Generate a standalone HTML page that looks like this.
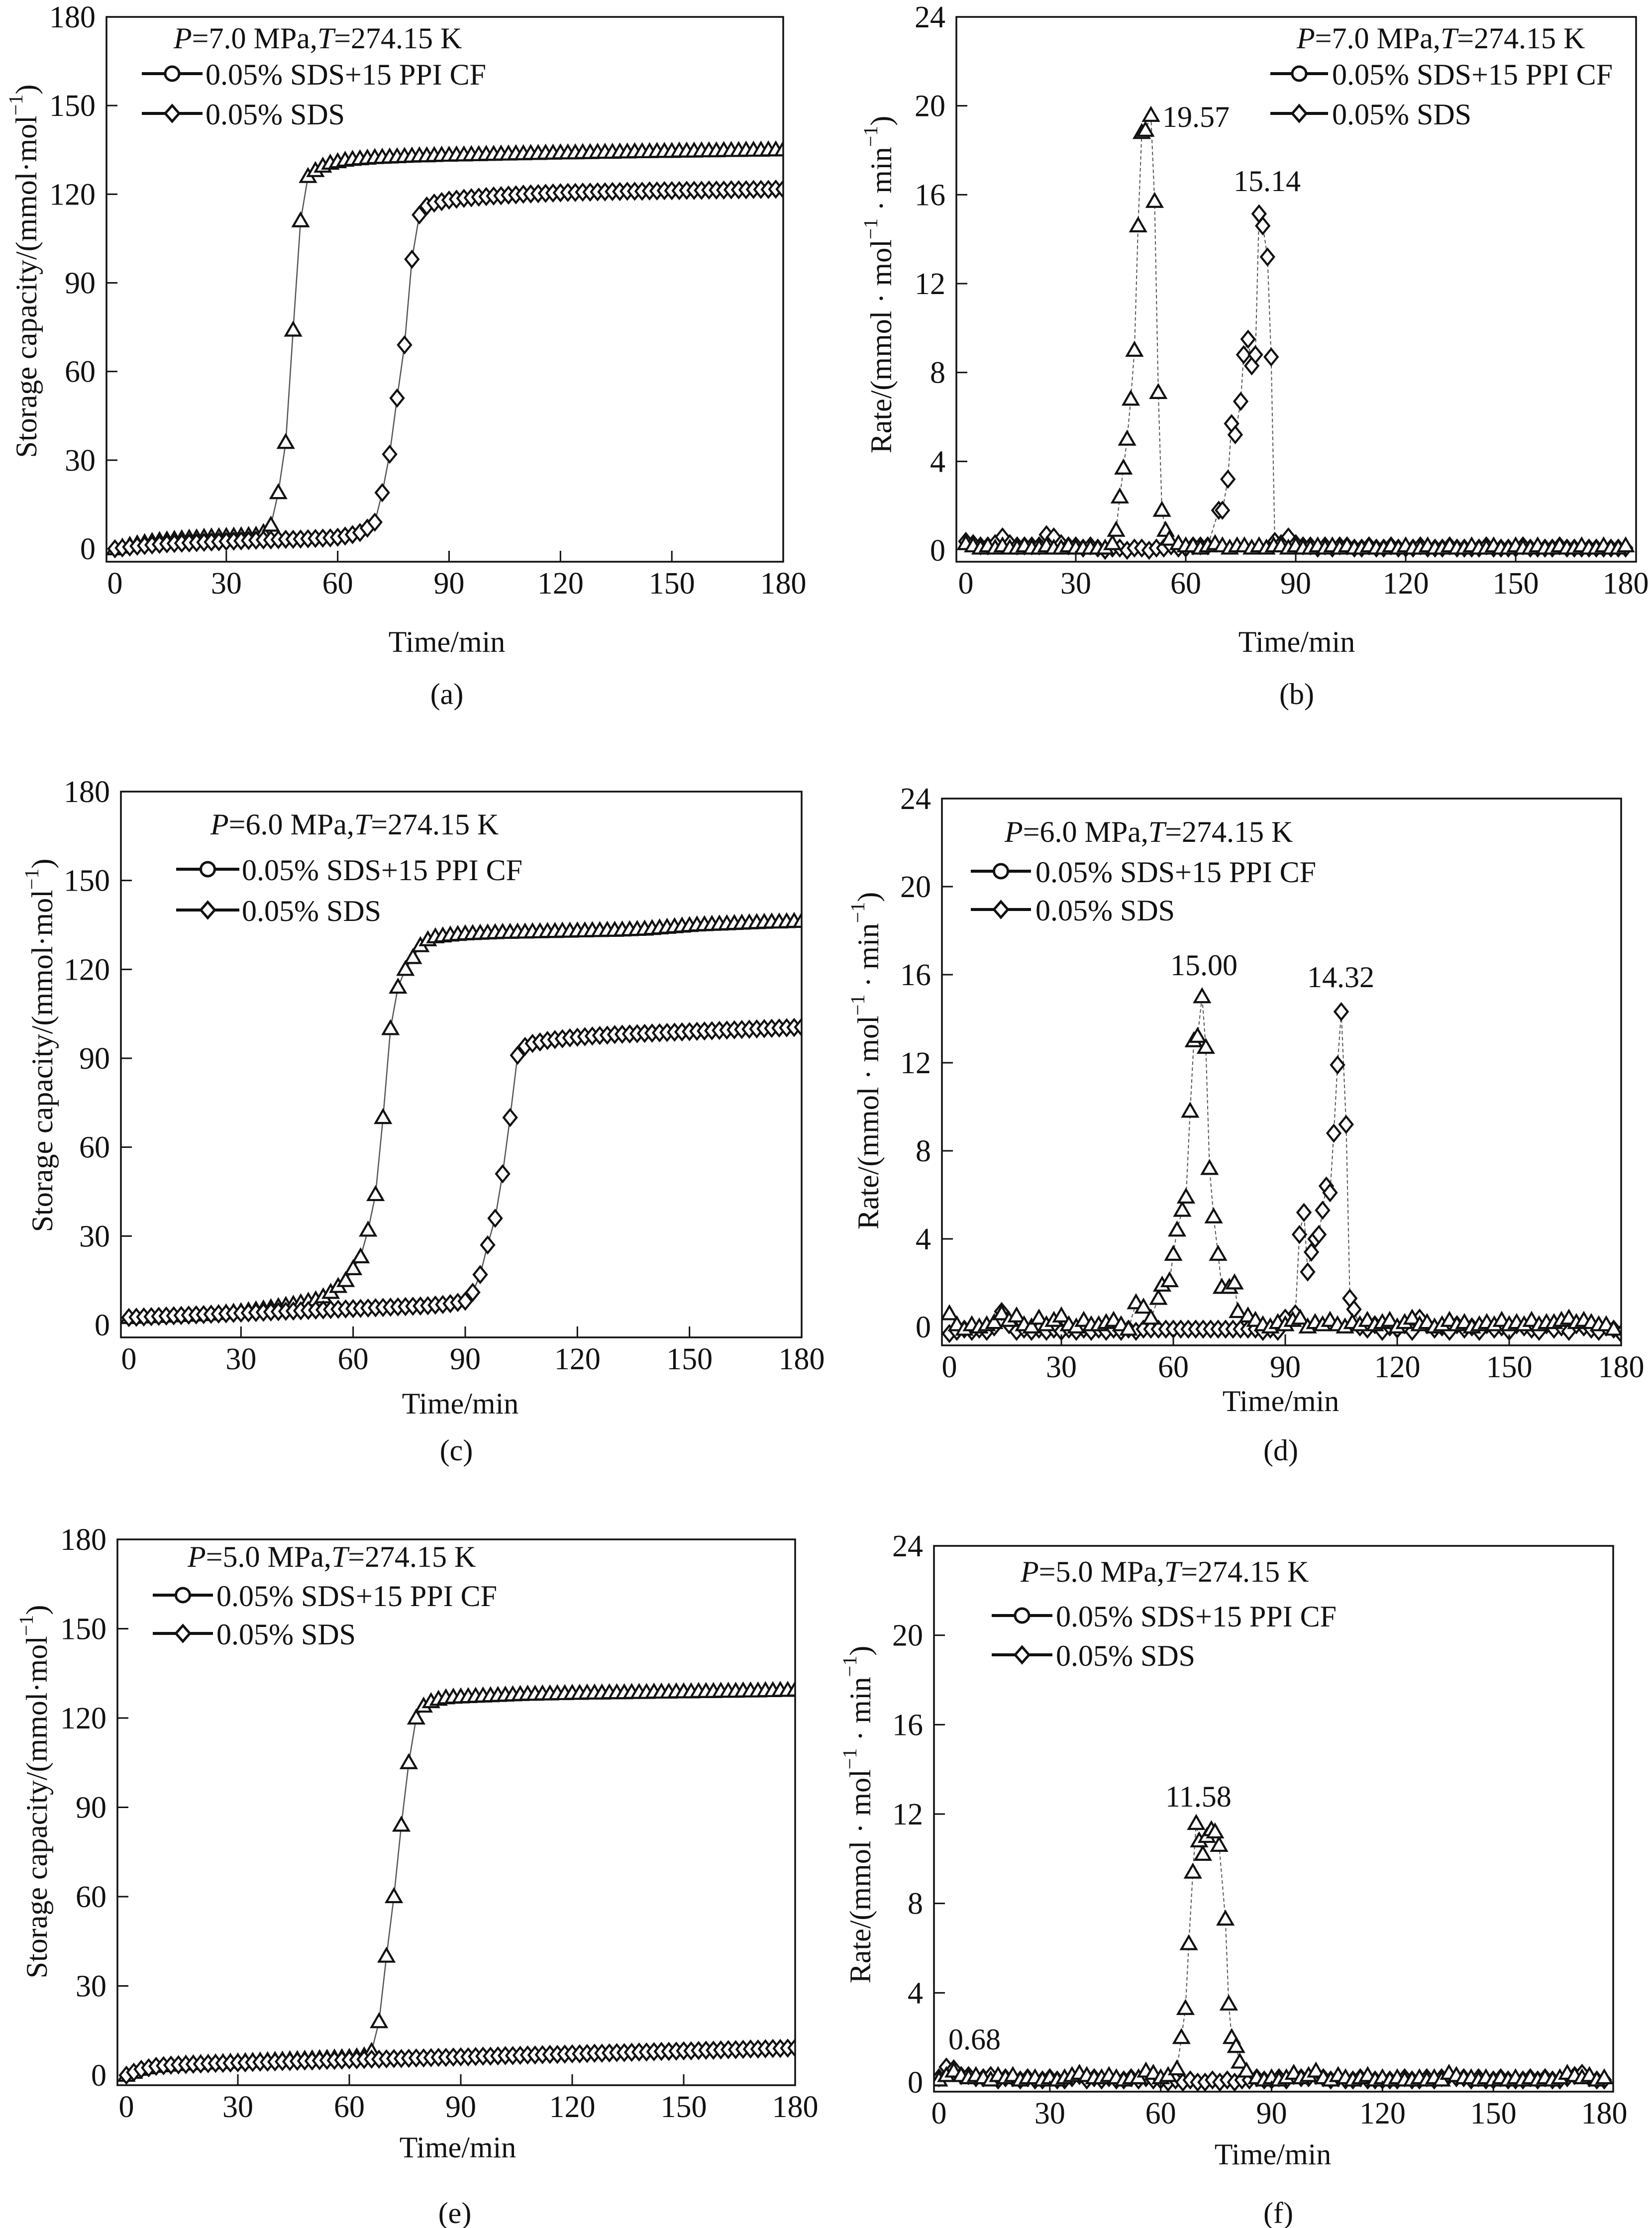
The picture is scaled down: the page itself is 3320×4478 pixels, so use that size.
<!DOCTYPE html>
<html><head><meta charset="utf-8"><style>
html,body{margin:0;padding:0;background:#fff;}
svg{display:block;font-family:"Liberation Serif",serif;}
</style></head><body>
<svg id="fig" width="3320" height="4478" viewBox="0 0 3320 4478" xmlns="http://www.w3.org/2000/svg"></svg>
<script>
// ---------- DATA ----------
const storageTime = [0,2,4,6,8,10,12,14,16,18,20,22,24,26,28,30,32,34,36,38,40,42,44,46,48,50,52,54,56,58,60,62,64,66,68,70,72,74,76,78,80,82,84,86,88,90,92,94,96,98,100,102,104,106,108,110,112,114,116,118,120,122,124,126,128,130,132,134,136,138,140,142,144,146,148,150,152,154,156,158,160,162,164,166,168,170,172,174,176,178,180];
const xTickLabels = [0,30,60,90,120,150,180];
const capTickLabels = [0,30,60,90,120,150,180];
const rateTickLabels = [0,4,8,12,16,20,24];
// (a) 7.0 MPa storage
const capA_CF = [0,0.6,1.2,1.7,2.1,2.5,2.8,3.0,3.2,3.4, 3.6,3.7,3.9,4.0,4.1,4.2,4.3,4.4,4.5,4.6, 5.5,8,19,36,74,111,126,128,129.5,130.5, 131,131.5,131.8,132,132.2,132.4,132.5,132.6,132.7,132.8, 132.9,133,133,133.1,133.2,133.2,133.3,133.3,133.4,133.4, 133.5,133.5,133.6,133.6,133.7,133.7,133.8,133.8,133.9,133.9, 134,134,134,134.1,134.1,134.2,134.2,134.2,134.3,134.3, 134.4,134.4,134.4,134.5,134.5,134.5,134.6,134.6,134.6,134.7, 134.7,134.7,134.8,134.8,134.8,134.9,134.9,134.9,135,135, 135];
const capA_SDS = [0,0.3,0.6,0.9,1.1,1.3,1.5,1.7,1.8,1.9, 2.0,2.1,2.2,2.3,2.4,2.5,2.6,2.7,2.8,2.9, 3.0,3.0,3.1,3.2,3.2,3.3,3.4,3.5,3.6,3.7, 3.9,4.3,4.8,5.5,7,9,19,32,51,69, 98,113,116,117,117.5,118,118.3,118.6,118.8,119, 119.2,119.4,119.5,119.7,119.8,120,120.1,120.2,120.3,120.4, 120.5,120.6,120.6,120.7,120.7,120.8,120.8,120.9,120.9,121, 121,121,121.1,121.1,121.2,121.2,121.2,121.3,121.3,121.3, 121.4,121.4,121.4,121.5,121.5,121.5,121.6,121.6,121.6,121.7, 121.7];
// (c) 6.0 MPa storage
const capC_CF = [2.5,2.6,2.7,2.8,2.9,3.0,3.1,3.2,3.3,3.4, 3.5,3.7,3.9,4.1,4.3,4.5,4.8,5.1,5.4,5.8, 6.2,6.6,7.0,7.5,8.0,8.5,9.5,11,13,15, 19,23,32,44,70,100,114,120,124,128, 130,131,131.3,131.6,131.8,132,132.1,132.2,132.3,132.4, 132.5,132.5,132.6,132.6,132.7,132.7,132.8,132.8,132.9,132.9, 133,133,133.1,133.1,133.2,133.2,133.3,133.4,133.5,133.6, 133.8,134,134.2,134.4,134.6,134.8,135,135.1,135.2,135.3, 135.4,135.5,135.6,135.7,135.8,135.9,136,136,136.1,136.2, 136.2];
const capC_SDS = [2.5,2.6,2.7,2.8,2.9,3.0,3.1,3.2,3.3,3.4, 3.5,3.6,3.7,3.8,3.9,4.0,4.1,4.2,4.3,4.4, 4.5,4.6,4.7,4.8,4.9,5.0,5.1,5.2,5.3,5.4, 5.5,5.6,5.7,5.8,5.9,6.0,6.1,6.2,6.3,6.4, 6.5,6.7,6.9,7.2,7.6,8,11,17,27,36, 51,70,91,94,95,95.5,96,96.3,96.6,96.9, 97.1,97.3,97.5,97.7,97.8,98,98.1,98.2,98.3,98.4, 98.5,98.6,98.7,98.8,98.9,99,99.1,99.2,99.3,99.4, 99.5,99.6,99.7,99.8,99.9,100,100.1,100.2,100.3,100.4, 100.5];
// (e) 5.0 MPa storage
const capE_CF = [0,1,2,2.5,3,3.2,3.4,3.6,3.8,3.9, 4.0,4.1,4.2,4.3,4.4,4.5,4.6,4.7,4.8,4.9, 5.0,5.1,5.2,5.3,5.4,5.5,5.6,5.7,5.8,5.9, 6.0,6.2,6.5,8,18,40,60,84,105,120, 124,125.5,126.3,126.8,127,127.1,127.2,127.3,127.4,127.5, 127.6,127.7,127.8,127.9,128,128,128.1,128.1,128.2,128.2, 128.3,128.3,128.4,128.4,128.4,128.5,128.5,128.5,128.6,128.6, 128.6,128.7,128.7,128.7,128.8,128.8,128.8,128.9,128.9,128.9, 129,129,129,129.1,129.1,129.1,129.2,129.2,129.3,129.3, 129.4];
const capE_SDS = [0,1,2,2.5,3,3.2,3.4,3.5,3.6,3.7, 3.8,3.9,4.0,4.0,4.1,4.2,4.2,4.3,4.4,4.4, 4.5,4.6,4.6,4.7,4.8,4.8,4.9,5.0,5.0,5.1, 5.2,5.2,5.3,5.4,5.4,5.5,5.6,5.6,5.7,5.8, 5.8,5.9,6.0,6.0,6.1,6.2,6.2,6.3,6.4,6.4, 6.5,6.6,6.6,6.7,6.8,6.8,6.9,7.0,7.0,7.1, 7.2,7.2,7.3,7.4,7.4,7.5,7.6,7.6,7.7,7.8, 7.8,7.9,8.0,8.0,8.1,8.2,8.2,8.3,8.4,8.4, 8.5,8.6,8.6,8.7,8.8,8.8,8.9,9.0,9.0,9.1, 9.2];
// (b) 7.0 MPa rate
const rateB_CF_t = [0,2,4,6,8,10,12,14,16,18,20,22,24,26,28,30,32,34,36,38, 40,41,42,43,44,45,46,47,48,49,50.5,51.5,52.5,53.5,54.5,55.5, 58,60,62,64,66,68,70,72,74,76,78,80,82,84,86,88,90,92,94,96,98,100,102,104,106,108,110,112,114,116,118,120,122,124,126,128,130,132,134,136,138,140,142,144,146,148,150,152,154,156,158,160,162,164,166,168,170,172,174,176,178,180];
const rateB_CF = [0.3,0.2,0.1,0.2,0.1,0.2,0.1,0.1,0.2,0.1,0.1,0.2,0.1,0.1,0.2,0.1,0.1,0.1,0.1,0.1, 0.3,0.9,2.4,3.7,5.0,6.8,9.0,14.6,18.8,18.9,19.57,15.7,7.1,1.8,0.9,0.5, 0.3,0.2,0.2,0.1,0.2,0.3,0.2,0.1,0.2,0.2,0.1,0.2,0.1,0.2,0.2,0.1,0.2,0.1,0.1,0.2,0.1,0.2,0.1,0.2,0.1,0.1,0.2,0.1,0.1,0.2,0.1,0.2,0.1,0.1,0.2,0.1,0.1,0.2,0.1,0.1,0.2,0.1,0.1,0.2,0.1,0.1,0.2,0.1,0.1,0.2,0.1,0.1,0.2,0.1,0.1,0.2,0.1,0.1,0.2,0.1,0.1,0.2];
const rateB_SDS_t = [0,2,4,6,8,10,12,14,16,18,20,22,24,26,28,30,32,34,36,38,40,42,44,46,48,50,52,54,56,58,60,62,64,66, 69,70,71.5,72.5,73.5,75,75.8,77,78,79,80,81,82.3,83.3,84.3, 86,88,90,92,94,96,98,100,102,104,106,108,110,112,114,116,118,120,122,124,126,128,130,132,134,136,138,140,142,144,146,148,150,152,154,156,158,160,162,164,166,168,170,172,174,176,178,180];
const rateB_SDS = [0.4,0.3,0.2,0.2,0.3,0.6,0.3,0.2,0.2,0.2,0.2,0.7,0.6,0.3,0.2,0.2,0.1,0.2,0.1,0.0,0.1,0.1,0.0,0.1,0.1,0.0,0.1,0.1,0.2,0.1,0.1,0.2,0.2,0.2, 1.8,1.8,3.2,5.7,5.2,6.7,8.8,9.5,8.3,8.8,15.14,14.6,13.2,8.7,0.4, 0.3,0.6,0.3,0.2,0.2,0.1,0.2,0.1,0.2,0.2,0.1,0.1,0.2,0.1,0.1,0.2,0.1,0.1,0.1,0.2,0.1,0.1,0.1,0.2,0.1,0.1,0.1,0.1,0.2,0.1,0.1,0.1,0.1,0.2,0.1,0.1,0.1,0.1,0.2,0.1,0.1,0.1,0.1,0.1,0.1,0.1,0.1,0.1];
// (d) 6.0 MPa rate
const rateD_CF_t = [0,2,4,6,8,10,12,14,16,18,20,22,24,26,28,30,32,34,36,38,40,42,44,46,48, 50,52,54,56,57,59,60,61,62.4,63.4,64.5,65.5,66.5,67.7,68.7,69.7,70.8,72,73,75,76.4,77.3, 80,82,84,86,88,90,92,94,96,98,100,102,104,106,108,110,112,114,116,118,120,122,124,126,128,130,132,134,136,138,140,142,144,146,148,150,152,154,156,158,160,162,164,166,168,170,172,174,176,178,180];
const rateD_CF = [0.6,0.1,-0.1,0.1,0.0,0.1,0.2,0.6,0.3,0.5,0.1,0.0,0.4,0.1,0.3,0.5,0.1,0.0,0.3,0.1,0.1,0.2,0.3,0.1,-0.1, 1.1,0.9,0.4,1.3,1.9,2.1,3.3,4.4,5.3,5.9,9.8,13.0,13.2,15.0,12.7,7.2,5.0,3.3,1.8,1.8,2.0,0.7, 0.5,0.3,0.1,0.0,0.2,0.1,0.3,0.4,0.0,0.2,0.1,0.3,0.1,0.0,0.2,0.1,0.3,0.1,0.2,0.3,0.0,0.2,0.4,0.1,0.2,0.0,0.1,0.3,0.1,0.2,0.0,0.1,0.2,0.1,0.3,0.1,0.2,0.1,0.3,0.1,0.2,0.2,0.3,0.4,0.2,0.3,0.2,0.1,0.1,-0.1];
const rateD_SDS_t = [0,2,4,6,8,10,12,14,16,18,20,22,24,26,28,30,32,34,36,38,40,42,44,46,48,50,52,54,56,58,60,62,64,66,68,70,72,74,76,78,80,82,84,86,88,90, 92.7,93.8,95,96,97,98,99,100,101,102,103,104,105,106.3,107.3,108.4, 110,112,114,116,118,120,122,124,126,128,130,132,134,136,138,140,142,144,146,148,150,152,154,156,158,160,162,164,166,168,170,172,174,176,178,180];
const rateD_SDS = [-0.3,-0.2,-0.1,-0.2,-0.1,-0.2,0.0,0.7,0.1,-0.2,-0.1,-0.2,-0.1,-0.2,-0.1,-0.2,-0.1,-0.2,-0.1,-0.2,-0.1,-0.2,-0.1,-0.2,-0.1,-0.2,-0.1,-0.1,-0.1,-0.1,-0.1,-0.1,-0.1,-0.1,-0.1,-0.1,-0.1,-0.1,-0.1,-0.1,-0.1,-0.1,-0.2,-0.1,-0.2,0.4, 0.6,4.2,5.2,2.5,3.4,4.0,4.2,5.3,6.4,6.1,8.8,11.9,14.32,9.2,1.3,0.8, 0.0,-0.1,0.1,-0.2,0.0,-0.1,0.1,-0.2,0.4,0.1,-0.1,0.0,-0.2,0.1,-0.1,0.0,-0.2,0.1,-0.1,0.0,-0.2,0.1,0.0,-0.1,-0.2,0.1,-0.1,0.0,-0.2,0.1,0.0,-0.1,-0.2,0.0,-0.1,-0.3];
// (f) 5.0 MPa rate
const rateF_CF_t = [0,2,4,6,8,10,12,14,16,18,20,22,24,26,28,30,32,34,36,38,40,42,44,46,48,50,52,54,56,58,60,62, 64.4,65.6,66.7,67.6,68.7,69.6,70.4,71.4,72.5,73.7,74.7,75.8,77.5,78.4,79.2,80.4,81.4,83.2, 86,88,90,92,94,96,98,100,102,104,106,108,110,112,114,116,118,120,122,124,126,128,130,132,134,136,138,140,142,144,146,148,150,152,154,156,158,160,162,164,166,168,170,172,174,176,178,180];
const rateF_CF = [0.1,0.3,0.5,0.3,0.2,0.3,0.2,0.1,0.3,0.2,0.3,0.1,0.2,0.2,0.1,0.2,0.1,0.2,0.3,0.4,0.3,0.2,0.2,0.3,0.2,0.1,0.2,0.2,0.5,0.4,0.2,0.3, 0.6,2.0,3.3,6.2,9.4,11.58,10.8,10.2,11.0,11.3,11.2,10.6,7.3,3.5,2.0,1.6,0.9,0.5, 0.2,0.1,0.2,0.1,0.2,0.4,0.2,0.3,0.5,0.2,0.1,0.3,0.2,0.1,0.2,0.3,0.1,0.2,0.1,0.2,0.1,0.1,0.2,0.1,0.2,0.1,0.4,0.3,0.2,0.2,0.1,0.2,0.1,0.2,0.1,0.2,0.1,0.2,0.1,0.2,0.1,0.2,0.4,0.3,0.2,0.3,0.1,0.2];
const rateF_SDS = [0.2,0.68,0.6,0.3,0.3,0.2,0.2,0.3,0.1,0.2,0.2,0.1,0.2,0.1,0.1,0.2,0.1,0.1,0.2,0.3,0.1,0.2,0.1,0.2,0.1,0.1,0.2,0.1,0.2,0.1,0.1,0.0,0.1,0.0,0.1,0.0,0.0,0.1,0.0,0.1,0.0,0.1,0.1,0.2,0.1,0.1,0.2,0.1,0.3,0.2,0.2,0.3,0.2,0.1,0.2,0.1,0.1,0.2,0.1,0.1,0.1,0.1,0.1,0.2,0.1,0.1,0.2,0.1,0.2,0.3,0.2,0.2,0.1,0.2,0.1,0.1,0.2,0.1,0.1,0.1,0.2,0.1,0.2,0.1,0.1,0.2,0.3,0.4,0.2,0.1,0.1];

// ---------- LAYOUT ----------
const NS = 'http://www.w3.org/2000/svg';
const svg = document.getElementById('fig');
function el(tag, attrs, parent){ const e=document.createElementNS(NS,tag); for(const k in attrs) e.setAttribute(k,attrs[k]); (parent||svg).appendChild(e); return e; }

const panels = [
 {id:'a', l:214,r:1574,t:34,b:1129, x0:231,x180:1574, y0:1103, yMax:180, ticks:capTickLabels, kind:'cap',
  P:'7.0', px:349, pb:97, lx1:285, lx2:407, ly1:148, ly2:228, tx:413,
  xt:{x:898,y:1310}, cap:{x:898,y:1415,s:'(a)'}, yt:{x:53,y:545},
  series:[{t:storageTime,v:capA_CF,m:'tri'},{t:storageTime,v:capA_SDS,m:'dia'}], notes:[]},
 {id:'b', l:1922,r:3288,t:34,b:1129, x0:1941,x180:3267, y0:1106, yMax:24, ticks:rateTickLabels, kind:'rate',
  P:'7.0', px:2606, pb:97, lx1:2553, lx2:2669, ly1:148, ly2:228, tx:2677,
  xt:{x:2606,y:1310}, cap:{x:2606,y:1415,s:'(b)'}, yt:{x:1771,y:572},
  series:[{t:rateB_SDS_t,v:rateB_SDS,m:'dia',d:1},{t:rateB_CF_t,v:rateB_CF,m:'tri',d:1}],
  notes:[{s:'19.57',x:2336,y:255},{s:'15.14',x:2479,y:384}]},
 {id:'c', l:243,r:1611,t:1591,b:2688, x0:259,x180:1611, y0:2663, yMax:180, ticks:capTickLabels, kind:'cap',
  P:'6.0', px:423, pb:1677, lx1:354, lx2:481, ly1:1747, ly2:1829, tx:486,
  xt:{x:925,y:2841}, cap:{x:917,y:2935,s:'(c)'}, yt:{x:85,y:2101},
  series:[{t:storageTime,v:capC_CF,m:'tri'},{t:storageTime,v:capC_SDS,m:'dia'}], notes:[]},
 {id:'d', l:1893,r:3258,t:1605,b:2704, x0:1908,x180:3258, y0:2667, yMax:24, ticks:rateTickLabels, kind:'rate',
  P:'6.0', px:2019, pb:1692, lx1:1951, lx2:2072, ly1:1751, ly2:1828, tx:2081,
  xt:{x:2574,y:2836}, cap:{x:2574,y:2935,s:'(d)'}, yt:{x:1745,y:2132},
  series:[{t:rateD_SDS_t,v:rateD_SDS,m:'dia',d:1},{t:rateD_CF_t,v:rateD_CF,m:'tri',d:1}],
  notes:[{s:'15.00',x:2352,y:1960},{s:'14.32',x:2627,y:1984}]},
 {id:'e', l:236,r:1598,t:3094,b:4191, x0:254,x180:1598, y0:4171, yMax:180, ticks:capTickLabels, kind:'cap',
  P:'5.0', px:377, pb:3149, lx1:307, lx2:428, ly1:3206, ly2:3283, tx:435,
  xt:{x:920,y:4336}, cap:{x:914,y:4468,s:'(e)'}, yt:{x:74,y:3601},
  series:[{t:storageTime,v:capE_CF,m:'tri'},{t:storageTime,v:capE_SDS,m:'dia'}], notes:[]},
 {id:'f', l:1877,r:3242,t:3107,b:4204, x0:1887,x180:3224, y0:4185, yMax:24, ticks:rateTickLabels, kind:'rate',
  P:'5.0', px:2051, pb:3179, lx1:1993, lx2:2115, ly1:3247, ly2:3326, tx:2122,
  xt:{x:2558,y:4350}, cap:{x:2569,y:4468,s:'(f)'}, yt:{x:1729,y:3647},
  series:[{t:storageTime,v:rateF_SDS,m:'dia',d:1},{t:rateF_CF_t,v:rateF_CF,m:'tri',d:1}],
  notes:[{s:'11.58',x:2342,y:3631},{s:'0.68',x:1906,y:4119}]}
];

function marker(kind,x,y,g){
  let e;
  if(kind==='tri'){
    e = el('path',{d:`M${x-15},${y+11} L${x},${y-15} L${x+15},${y+11} Z`,fill:'#fff',stroke:'#111','stroke-width':4.2},g);
    
  } else {
    e = el('path',{d:`M${x},${y-16} L${x+13},${y} L${x},${y+16} L${x-13},${y} Z`,fill:'#fff',stroke:'#111','stroke-width':4.2},g);
    
  }
  
}

panels.forEach(p=>{
  const g = el('g',{});
  
  
  const yTopPx = p.t;
  const sx = t => p.x0 + t/180*(p.x180-p.x0);
  const sy = v => p.y0 - v/p.yMax*(p.y0-yTopPx);
  const cp = el('clipPath',{id:'clip'+p.id},g);
  el('rect',{x:p.l,y:p.t,width:p.r-p.l,height:p.b-p.t},cp);

  const sg = el('g',{'clip-path':'url(#clip'+p.id+')'},g);
  
  
  p.series.forEach(s=>{
    const pts=[];
    for(let i=0;i<s.t.length;i++){ if(s.v[i]===undefined) continue; pts.push(sx(s.t[i]).toFixed(1)+','+sy(s.v[i]).toFixed(1)); }
    const line = el('polyline',{points:pts.join(' '),fill:'none',stroke:'#555','stroke-width':s.d?2:2.5,'stroke-dasharray':s.d?'7,5':'none'},sg);
    
    
  });
  p.series.forEach(s=>{
    for(let i=0;i<s.t.length;i++){ if(s.v[i]===undefined) continue; marker(s.m, sx(s.t[i]), sy(s.v[i]), sg); }
  });

  const fr = el('rect',{x:p.l,y:p.t,width:p.r-p.l,height:p.b-p.t,fill:'none',stroke:'#111','stroke-width':3.5},g);
  
  

  xTickLabels.forEach(v=>{
    const x=sx(v);
    if(v>0 && v<180){
      const tk=el('line',{x1:x,x2:x,y1:p.b,y2:p.b-22,stroke:'#111','stroke-width':3},g);
      
      
    }
    const tl=el('text',{x:x,y:p.b+64,'font-size':62,'text-anchor':'middle',fill:'#111'},g);
    tl.textContent=v;
    
    
  });
  p.ticks.forEach(v=>{
    const y=sy(v);
    if(v>0 && v<p.yMax){
      const tk=el('line',{x1:p.l,x2:p.l+22,y1:y,y2:y,stroke:'#111','stroke-width':3},g);
      
      
    }
    const tl=el('text',{x:p.l-22,y:y+21,'font-size':62,'text-anchor':'end',fill:'#111'},g);
    tl.textContent=v;
    
    
  });

  const xt=el('text',{x:p.xt.x,y:p.xt.y,'font-size':60,'text-anchor':'middle',fill:'#111'},g);
  xt.textContent='Time/min';
  
  
  const yt=el('text',{x:p.yt.x,y:p.yt.y,'font-size':60,'text-anchor':'middle','dominant-baseline':'central',fill:'#111',transform:`rotate(-90 ${p.yt.x} ${p.yt.y})`},g);
  
  
  if(p.kind==='cap'){
    yt.innerHTML='Storage capacity/(mmol·mol<tspan font-size="40" dy="-22">−1</tspan><tspan dy="22">)</tspan>';
  } else {
    yt.innerHTML='Rate/(mmol · mol<tspan font-size="40" dy="-22">−1</tspan><tspan dy="22"> · min</tspan><tspan font-size="40" dy="-22">−1</tspan><tspan dy="22">)</tspan>';
  }
  const cap=el('text',{x:p.cap.x,y:p.cap.y,'font-size':60,'text-anchor':'middle',fill:'#111'},g);
  cap.textContent=p.cap.s;
  
  

  const lg = el('g',{},g);
  
  
  const cond=el('text',{x:p.px,y:p.pb,'font-size':60,fill:'#111'},lg);
  cond.innerHTML=`<tspan font-style="italic">P</tspan>=${p.P} MPa,<tspan font-style="italic">T</tspan>=274.15 K`;
  
  
  [[p.ly1,'circle','0.05% SDS+15 PPI CF'],[p.ly2,'diamond','0.05% SDS']].forEach(([y,m,label])=>{
    const le=el('g',{},lg);
    
    
    el('line',{x1:p.lx1,x2:p.lx2,y1:y,y2:y,stroke:'#111','stroke-width':6},le);
    const cx=(p.lx1+p.lx2)/2;
    if(m==='circle') el('circle',{cx:cx,cy:y,r:14,fill:'#fff',stroke:'#111','stroke-width':5},le);
    else el('path',{d:`M${cx},${y-16} L${cx+14},${y} L${cx},${y+16} L${cx-14},${y} Z`,fill:'#fff',stroke:'#111','stroke-width':5},le);
    const t=el('text',{x:p.tx,y:y+22,'font-size':60,fill:'#111'},le);
    t.textContent=label;
  });

  p.notes.forEach(n=>{
    const t=el('text',{x:n.x,y:n.y,'font-size':60,fill:'#111'},g);
    t.textContent=n.s;
    
    
  });
});
</script>
</body></html>
